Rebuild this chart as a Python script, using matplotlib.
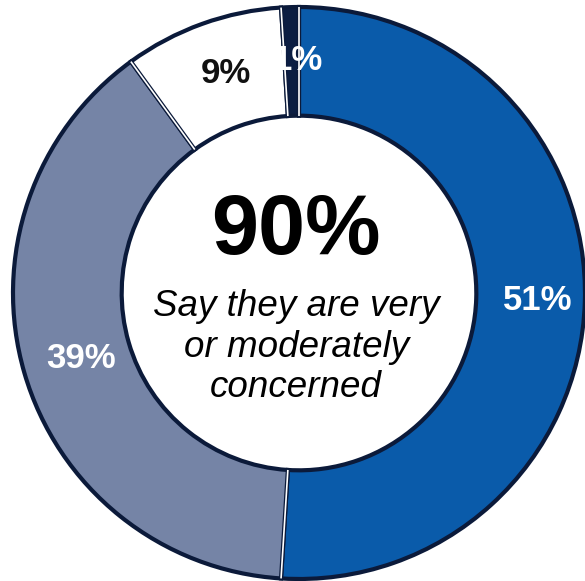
import numpy as np
import matplotlib.pyplot as plt

# Share of respondents by level of concern
categories = ["Very concerned", "Moderately concerned", "Slightly concerned", "Not concerned"]
values = [51, 39, 9, 1]
labels = ["51%", "39%", "9%", "1%"]
colors = ["#0A5BAA", "#7584A6", "#FFFFFF", "#0B1D42"]
label_colors = ["white", "white", "#111111", "white"]

headline = "90%"
subtitle = "Say they are very\nor moderately\nconcerned"

fig = plt.figure(figsize=(5.85, 5.81), dpi=100)
ax = fig.add_axes([0, 0, 1, 1])

wedges, _ = ax.pie(values, startangle=90, counterclock=False, radius=1.0,
                   colors=colors,
                   wedgeprops=dict(width=0.38, edgecolor="#0B1A3A", linewidth=3))

# thin white gap between segments
for w in wedges:
    a = np.deg2rad(w.theta1)
    ax.plot([0.62 * np.cos(a), 1.0 * np.cos(a)], [0.62 * np.sin(a), 1.0 * np.sin(a)],
            color="white", lw=1.2, solid_capstyle="butt")

# Percentage labels in the middle of each ring segment
for w, lab, c in zip(wedges, labels, label_colors):
    ang = np.deg2rad((w.theta1 + w.theta2) / 2)
    r = 0.815
    ax.text(r * np.cos(ang) + 0.02, r * np.sin(ang), lab, ha="center", va="center",
            fontsize=25, fontweight="bold", color=c, family="Liberation Sans")

ax.text(-0.01, 0.215, headline, ha="center", va="center", fontsize=61,
        fontweight="bold", color="black", family="Liberation Sans")
ax.text(-0.01, -0.19, subtitle, ha="center", va="center", fontsize=26.5,
        style="italic", color="black", family="Liberation Sans", linespacing=1.2)

ax.set_xlim(-299 / 286, 286 / 286)
ax.set_ylim(-288 / 286, 293 / 286)
ax.set_aspect("equal")
ax.axis("off")

fig.savefig("out.png", dpi=100)
